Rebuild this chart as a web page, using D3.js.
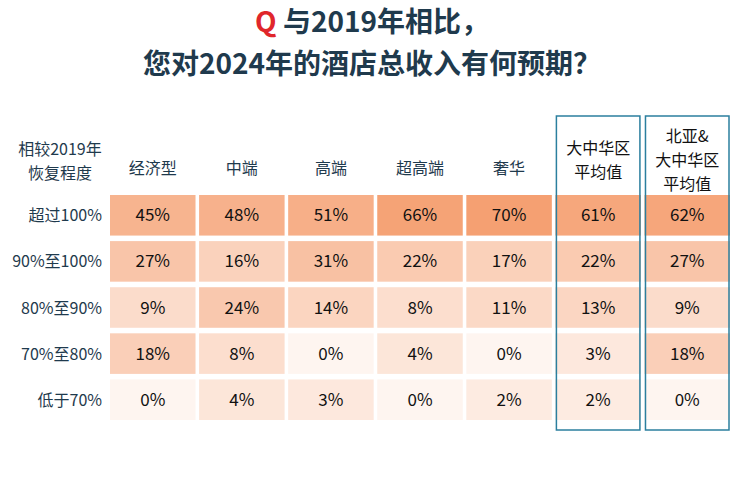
<!DOCTYPE html>
<html><head><meta charset="utf-8">
<script src="https://cdn.jsdelivr.net/npm/d3@7"></script>
<style>body{margin:0;background:#fff}text{font-family:"Noto Sans CJK SC","Noto Sans",sans-serif}</style>
</head><body><div id="chart"></div>
<script>
var columns = ["经济型", "中端", "高端", "超高端", "奢华", "大中华区\n平均值", "北亚&\n大中华区\n平均值"]
  , rows = ["超过100%", "90%至100%", "80%至90%", "70%至80%", "低于70%"]
  , values = [
      [45, 48, 51, 66, 70, 61, 62]
    , [27, 16, 31, 22, 17, 22, 27]
    , [9, 24, 14, 8, 11, 13, 9]
    , [18, 8, 0, 4, 0, 3, 18]
    , [0, 4, 3, 0, 2, 2, 0]
    ]
  , boxed = [5, 6]

var width = 744, height = 485
  , svg = d3.select("#chart").append("svg").attr("width", width).attr("height", height)
  , navy = "#1f3a4d"

var x = d3.scaleBand().domain(d3.range(columns.length)).range([110, 730]).paddingInner(0.04)
  , y = d3.scaleBand().domain(d3.range(rows.length)).range([195, 420]).paddingInner(0.12)
  , color = d3.scalePow().exponent(0.6).domain([0, 70]).range(["#fef5f0", "#f5a072"])

// title
var t1 = svg.append("text").attr("x", width / 2).attr("y", 32).attr("text-anchor", "middle")
  .attr("font-size", 28).attr("font-weight", 700).attr("fill", navy)
t1.append("tspan").attr("fill", "#e0262b").text("Q ")
t1.append("tspan").text("与2019年相比，")
svg.append("text").attr("x", width / 2).attr("y", 74).attr("text-anchor", "middle")
  .attr("font-size", 28).attr("font-weight", 700).attr("fill", navy).text("您对2024年的酒店总收入有何预期？")

// corner label
svg.append("text").attr("x", 60).attr("y", 155).attr("text-anchor", "middle").attr("font-size", 16).attr("fill", navy)
  .selectAll("tspan").data(["相较2019年", "恢复程度"]).enter().append("tspan")
  .attr("x", 60).attr("dy", function (d, i) { return i ? 24 : 0 }).text(function (d) { return d })

// column headers
columns.forEach(function (c, i) {
  var lines = c.split("\n")
    , cx = x(i) + x.bandwidth() / 2
    , mid = lines.length === 1 ? 168 : 160
    , y0 = mid - (lines.length - 1) * 12
  svg.append("text").attr("text-anchor", "middle").attr("font-size", 16).attr("fill", i < 5 ? navy : "#111")
    .selectAll("tspan").data(lines).enter().append("tspan")
    .attr("x", cx).attr("y", function (d, j) { return y0 + j * 24 + 6 }).text(function (d) { return d })
})

// row labels
rows.forEach(function (r, i) {
  svg.append("text").attr("x", 102).attr("y", y(i) + y.bandwidth() / 2 + 6).attr("text-anchor", "end")
    .attr("font-size", 16).attr("fill", navy).text(r)
})

// cells
values.forEach(function (row, ri) {
  row.forEach(function (v, ci) {
    svg.append("rect").attr("x", x(ci)).attr("y", y(ri)).attr("width", x.bandwidth()).attr("height", y.bandwidth())
      .attr("fill", color(v))
    svg.append("text").attr("x", x(ci) + x.bandwidth() / 2).attr("y", y(ri) + y.bandwidth() / 2 + 6)
      .attr("text-anchor", "middle").attr("font-size", 17).attr("fill", "#111").text(v + "%")
  })
})

// highlight boxes
boxed.forEach(function (ci) {
  svg.append("rect").attr("x", x(ci) + 1).attr("y", 116).attr("width", x.bandwidth() - 2).attr("height", 314)
    .attr("fill", "none").attr("stroke", "#2b7f9e").attr("stroke-width", 1.5)
})
</script></body></html>
